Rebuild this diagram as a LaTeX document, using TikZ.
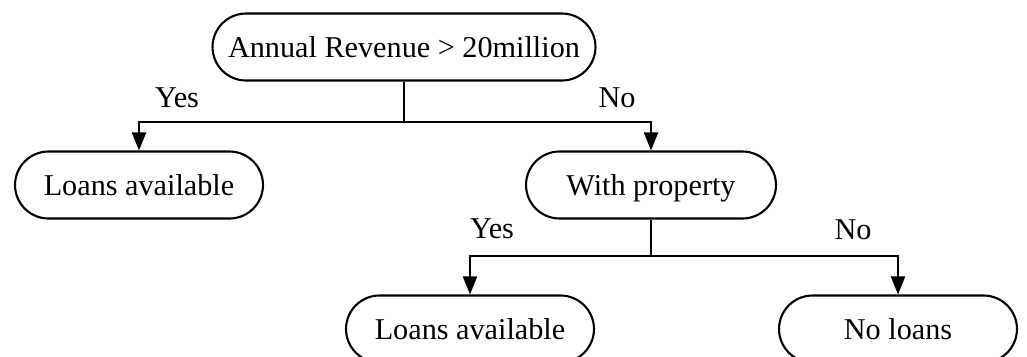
\documentclass[tikz,border=0pt]{standalone}
\usepackage{fontspec}
\setmainfont{Liberation Serif}
\usetikzlibrary{arrows.meta,shapes.misc}

\tikzset{
  box/.style={rounded rectangle, draw, line width=1.2pt, minimum height=1.34cm,
    inner xsep=0pt, text height=11.9pt, text depth=0pt,
    font=\fontsize{17.2}{20}\selectfont},
  lbl/.style={font=\fontsize{17.2}{20}\selectfont, inner sep=0pt},
  link/.style={line width=1.2pt},
  arr/.style={line width=1.2pt, -{Triangle[length=0.36cm,width=0.28cm]}}
}

\begin{document}
\begin{tikzpicture}[x=0.02cm,y=-0.02cm]
\useasboundingbox (0,0) rectangle (1027,356);

% boxes
\node[box, minimum width=7.66cm] (root)   at (404,47)  {Annual Revenue > 20million};
\node[box, minimum width=4.96cm] (loansA) at (139,185) {Loans available};
\node[box, minimum width=5.0cm]  (prop)   at (651,185) {With property};
\node[box, minimum width=4.96cm] (loansB) at (470,329) {Loans available};
\node[box, minimum width=4.76cm] (noloan) at (898,329) {No loans};

% forks
\coordinate (forkA) at (404,122);
\coordinate (forkB) at (651,256);

% first split
\draw[line width=0.8pt] (root.south) -- (forkA);
\draw[arr] (forkA) -| (loansA.north);
\draw[arr] (forkA) -| (prop.north);

% second split
\draw[link] (prop.south) -- (forkB);
\draw[arr] (forkB) -| (loansB.north);
\draw[arr] (forkB) -| (noloan.north);

% labels
\node[lbl] (yesA) at (177,98)  {Yes};
\node[lbl] (noA)  at (617,98)  {No};
\node[lbl] (yesB) at (492,229) {Yes};
\node[lbl] (noB)  at (853,230) {No};
\end{tikzpicture}
\end{document}
